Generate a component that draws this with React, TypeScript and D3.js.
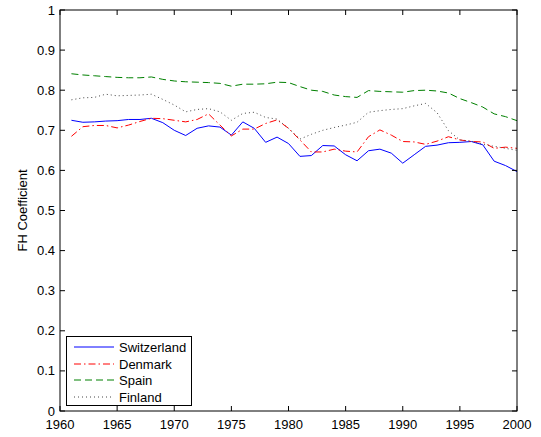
import React from "react";
import * as d3 from "d3";

const years = d3.range(1961, 2001);
const switzerland = [0.725,0.72,0.721,0.723,0.724,0.727,0.727,0.73,0.719,0.7,0.687,0.705,0.711,0.708,0.688,0.721,0.705,0.67,0.683,0.667,0.635,0.637,0.662,0.661,0.639,0.624,0.649,0.653,0.643,0.618,0.639,0.66,0.663,0.669,0.67,0.672,0.664,0.623,0.612,0.597];
const denmark = [0.685,0.709,0.712,0.712,0.706,0.713,0.722,0.73,0.729,0.725,0.721,0.727,0.741,0.713,0.686,0.703,0.703,0.717,0.726,0.705,0.676,0.646,0.646,0.653,0.648,0.646,0.684,0.701,0.688,0.672,0.671,0.665,0.673,0.684,0.676,0.672,0.671,0.655,0.658,0.655];
const spain = [0.841,0.838,0.836,0.834,0.832,0.831,0.831,0.833,0.827,0.823,0.821,0.82,0.819,0.817,0.81,0.815,0.815,0.816,0.82,0.819,0.809,0.8,0.797,0.788,0.784,0.782,0.799,0.797,0.796,0.795,0.799,0.8,0.798,0.793,0.779,0.769,0.758,0.741,0.734,0.724];
const finland = [0.776,0.781,0.782,0.79,0.786,0.787,0.788,0.79,0.777,0.763,0.746,0.752,0.754,0.746,0.725,0.742,0.745,0.732,0.728,0.705,0.678,0.69,0.7,0.707,0.713,0.72,0.745,0.749,0.752,0.754,0.761,0.767,0.744,0.699,0.676,0.673,0.665,0.66,0.655,0.65];

const xTicks = [1960,1965,1970,1975,1980,1985,1990,1995,2000];
const yTicks = [0,0.1,0.2,0.3,0.4,0.5,0.6,0.7,0.8,0.9,1];

const seriesDefs = [
  { name: "Switzerland", values: switzerland, color: "#0000ff", dash: "none" },
  { name: "Denmark", values: denmark, color: "#ff0000", dash: "7,3,1.5,3" },
  { name: "Spain", values: spain, color: "#008000", dash: "7,4" },
  { name: "Finland", values: finland, color: "#444444", dash: "1,3" },
];

export default function App() {
  const W = 541, H = 437;
  const left = 60, right = 517, top = 10, bottom = 411;
  const x = d3.scaleLinear().domain([1960, 2000]).range([left, right]);
  const y = d3.scaleLinear().domain([0, 1]).range([bottom, top]);
  const line = d3.line<number>().x((_, i) => x(years[i])).y((d) => y(d));
  const font = "Liberation Sans, Arial, sans-serif";
  const tl = 5;

  return (
    <svg width={W} height={H} style={{ position: "absolute", left: 0, top: 0 }} fontFamily={font}>
      <rect x={0} y={0} width={W} height={H} fill="#fff" />
      {seriesDefs.map((s) => (
        <path key={s.name} d={line(s.values) || ""} fill="none" stroke={s.color} strokeWidth={1} strokeDasharray={s.dash} />
      ))}
      <rect x={left} y={top} width={right - left} height={bottom - top} fill="none" stroke="#000" strokeWidth={1} />
      {xTicks.map((t) => (
        <g key={"x" + t}>
          <line x1={x(t)} x2={x(t)} y1={bottom} y2={bottom - tl} stroke="#000" />
          <line x1={x(t)} x2={x(t)} y1={top} y2={top + tl} stroke="#000" />
          <text x={x(t)} y={bottom + 18} fontSize={13} textAnchor="middle">{t}</text>
        </g>
      ))}
      {yTicks.map((t) => (
        <g key={"y" + t}>
          <line x1={left} x2={left + tl} y1={y(t)} y2={y(t)} stroke="#000" />
          <line x1={right} x2={right - tl} y1={y(t)} y2={y(t)} stroke="#000" />
          <text x={left - 5} y={y(t) + 4.5} fontSize={13} textAnchor="end">{String(t)}</text>
        </g>
      ))}
      <text transform={`translate(27,${(top + bottom) / 2}) rotate(-90)`} fontSize={13} textAnchor="middle">FH Coefficient</text>
      <g>
        <rect x={66.5} y={336.5} width={125} height={69} fill="#fff" stroke="#000" strokeWidth={1} />
        {seriesDefs.map((s, i) => {
          const ly = Math.round(347 + i * 16.5);
          return (
            <g key={"l" + s.name}>
              <line x1={74} x2={114} y1={ly} y2={ly} stroke={s.color} strokeWidth={1} strokeDasharray={s.dash} />
              <text x={119} y={ly + 4.5} fontSize={13}>{s.name}</text>
            </g>
          );
        })}
      </g>
    </svg>
  );
}
